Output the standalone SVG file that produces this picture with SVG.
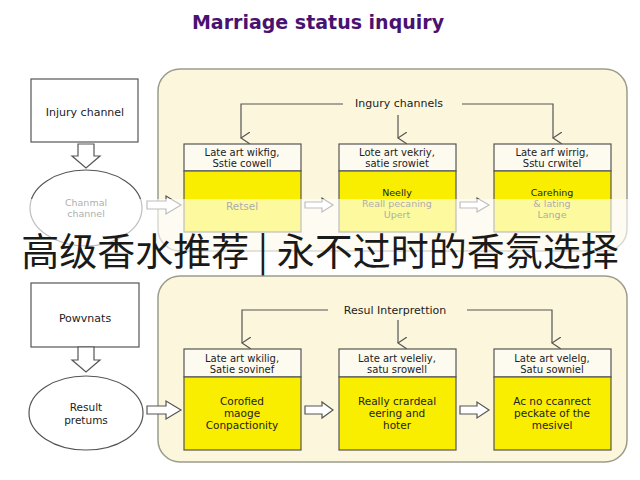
<svg xmlns="http://www.w3.org/2000/svg" width="640" height="480" viewBox="0 0 640 480">
<style>
.t{font-family:"DejaVu Sans","Liberation Sans",sans-serif;fill:#222;text-anchor:middle}
.h{font-size:10px}
.y{font-size:10.5px}
.s{font-size:9.5px}
.panel{fill:#fcf7dc;stroke:#9c9c8c;stroke-width:1.5}
.box{fill:#fff;stroke:#555;stroke-width:1.2}
.hdr{fill:#fdfbf0;stroke:#555;stroke-width:1.2}
.yel{fill:#f9ee00;stroke:#555;stroke-width:1.2}
.hol{fill:#fff;stroke:#555;stroke-width:1.2;stroke-linejoin:miter}
.ln{fill:none;stroke:#555;stroke-width:1.2}
</style>
<defs>
<marker id="v" viewBox="0 0 12 10" refX="6" refY="9" markerWidth="12" markerHeight="10" markerUnits="userSpaceOnUse" orient="auto-start-reverse">
<path d="M0,0 L6,9 L12,0" fill="none" stroke="#555" stroke-width="1.2"/>
</marker>
</defs>
<rect width="640" height="480" fill="#fff"/>
<text x="318" y="29" font-family="DejaVu Sans, Liberation Sans, sans-serif" font-size="19" font-weight="bold" fill="#4a1270" text-anchor="middle">Marriage status inquiry</text>

<g id="panel-top"><rect class="panel" x="158" y="69" width="469" height="182" rx="22"/></g>
<g id="panel-bottom"><rect class="panel" x="158" y="276" width="469" height="186" rx="22"/></g>

<g id="injury-channel"><rect class="box" x="31" y="79" width="107" height="63"/><text class="t" x="85" y="116" font-size="11">Injury channel</text></g>
<g id="chanmal-channel"><ellipse class="box" cx="86" cy="208" rx="56" ry="38"/><text class="t s" x="86" y="206">Chanmal</text><text class="t s" x="86" y="217">channel</text></g>

<g id="top-box1"><rect class="hdr" x="184" y="144" width="117" height="27"/><rect class="yel" x="184" y="171" width="117" height="61"/>
<text class="t h" x="242" y="156">Late art wikfig,</text><text class="t h" x="242" y="167">Sstie cowell</text><text class="t y" x="242" y="210">Retsel</text></g>
<g id="top-box2"><rect class="hdr" x="339" y="144" width="117" height="27"/><rect class="yel" x="339" y="171" width="117" height="61"/>
<text class="t h" x="397" y="156">Lote art vekriy,</text><text class="t h" x="397" y="167">satie srowiet</text>
<text class="t s" x="397" y="196">Neelly</text><text class="t s" x="397" y="207">Reall pecaning</text><text class="t s" x="397" y="218">Upert</text></g>
<g id="top-box3"><rect class="hdr" x="494" y="144" width="117" height="27"/><rect class="yel" x="494" y="171" width="117" height="61"/>
<text class="t h" x="552" y="156">Late arf wirrig,</text><text class="t h" x="552" y="167">Sstu crwitel</text>
<text class="t s" x="552" y="196">Carehing</text><text class="t s" x="552" y="207">&amp; lating</text><text class="t s" x="552" y="218">Lange</text></g>
<g id="label-top"><text class="t" x="399" y="107" font-size="11">Ingury channels</text></g>

<g id="powvnats"><rect class="box" x="31" y="283" width="108" height="64"/><text class="t" x="85" y="322" font-size="11">Powvnats</text></g>
<g id="result-pretums"><ellipse class="box" cx="86" cy="413" rx="57" ry="37"/><text class="t y" x="86" y="411">Result</text><text class="t y" x="86" y="424">pretums</text></g>

<g id="bot-box1"><rect class="hdr" x="184" y="349" width="117" height="28"/><rect class="yel" x="184" y="377" width="117" height="73"/>
<text class="t h" x="242" y="362">Late art wkilig,</text><text class="t h" x="242" y="373">Satie sovinef</text>
<text class="t y" x="242" y="405">Corofied</text><text class="t y" x="242" y="417">maoge</text><text class="t y" x="242" y="429">Conpactionity</text></g>
<g id="bot-box2"><rect class="hdr" x="339" y="349" width="117" height="28"/><rect class="yel" x="339" y="377" width="117" height="73"/>
<text class="t h" x="397" y="362">Late art veleliy,</text><text class="t h" x="397" y="373">satu srowell</text>
<text class="t y" x="397" y="405">Really crardeal</text><text class="t y" x="397" y="417">eering and</text><text class="t y" x="397" y="429">hoter</text></g>
<g id="bot-box3"><rect class="hdr" x="494" y="349" width="117" height="28"/><rect class="yel" x="494" y="377" width="117" height="73"/>
<text class="t h" x="552" y="362">Late art velelg,</text><text class="t h" x="552" y="373">Satu sowniel</text>
<text class="t y" x="552" y="405">Ac no ccanrect</text><text class="t y" x="552" y="417">peckate of the</text><text class="t y" x="552" y="429">mesivel</text></g>
<g id="label-bottom"><text class="t" x="395" y="314" font-size="11">Resul Interprettion</text></g>

<g id="connectors">
<path class="ln" d="M343,104 H241 V138" marker-end="url(#v)"/>
<path class="ln" d="M462,104 H553 V138" marker-end="url(#v)"/>
<path class="ln" d="M398,115 V138" marker-end="url(#v)"/>
<path class="ln" d="M328,310 H242 V343" marker-end="url(#v)"/>
<path class="ln" d="M467,310 H552 V343" marker-end="url(#v)"/>
<path class="ln" d="M398,320 V343" marker-end="url(#v)"/>
<polygon class="hol" points="78,144 94,144 94,156 100,156 86,168 72,156 78,156"/>
<polygon class="hol" points="147,201 166,201 166,196 181,205 166,214 166,209 147,209"/>
<polygon class="hol" points="305,202 322,202 322,198 333,205 322,212 322,208 305,208"/>
<polygon class="hol" points="460,202 477,202 477,198 489,205 477,212 477,208 460,208"/>
<polygon class="hol" points="78,347 94,347 94,360 100,360 86,372 72,360 78,360"/>
<polygon class="hol" points="147,406 166,406 166,401 181,410 166,419 166,414 147,414"/>
<polygon class="hol" points="305,406 322,406 322,402 333,410 322,418 322,414 305,414"/>
<polygon class="hol" points="460,406 477,406 477,402 489,410 477,418 477,414 460,414"/>
</g>

<rect x="0" y="199" width="640" height="73" fill="#fff" fill-opacity="0.62"/>
<text x="320" y="265" font-family="Noto Sans CJK SC, sans-serif" font-size="38" fill="#1a1a1a" text-anchor="middle">高级香水推荐 | 永不过时的香氛选择</text>
</svg>
